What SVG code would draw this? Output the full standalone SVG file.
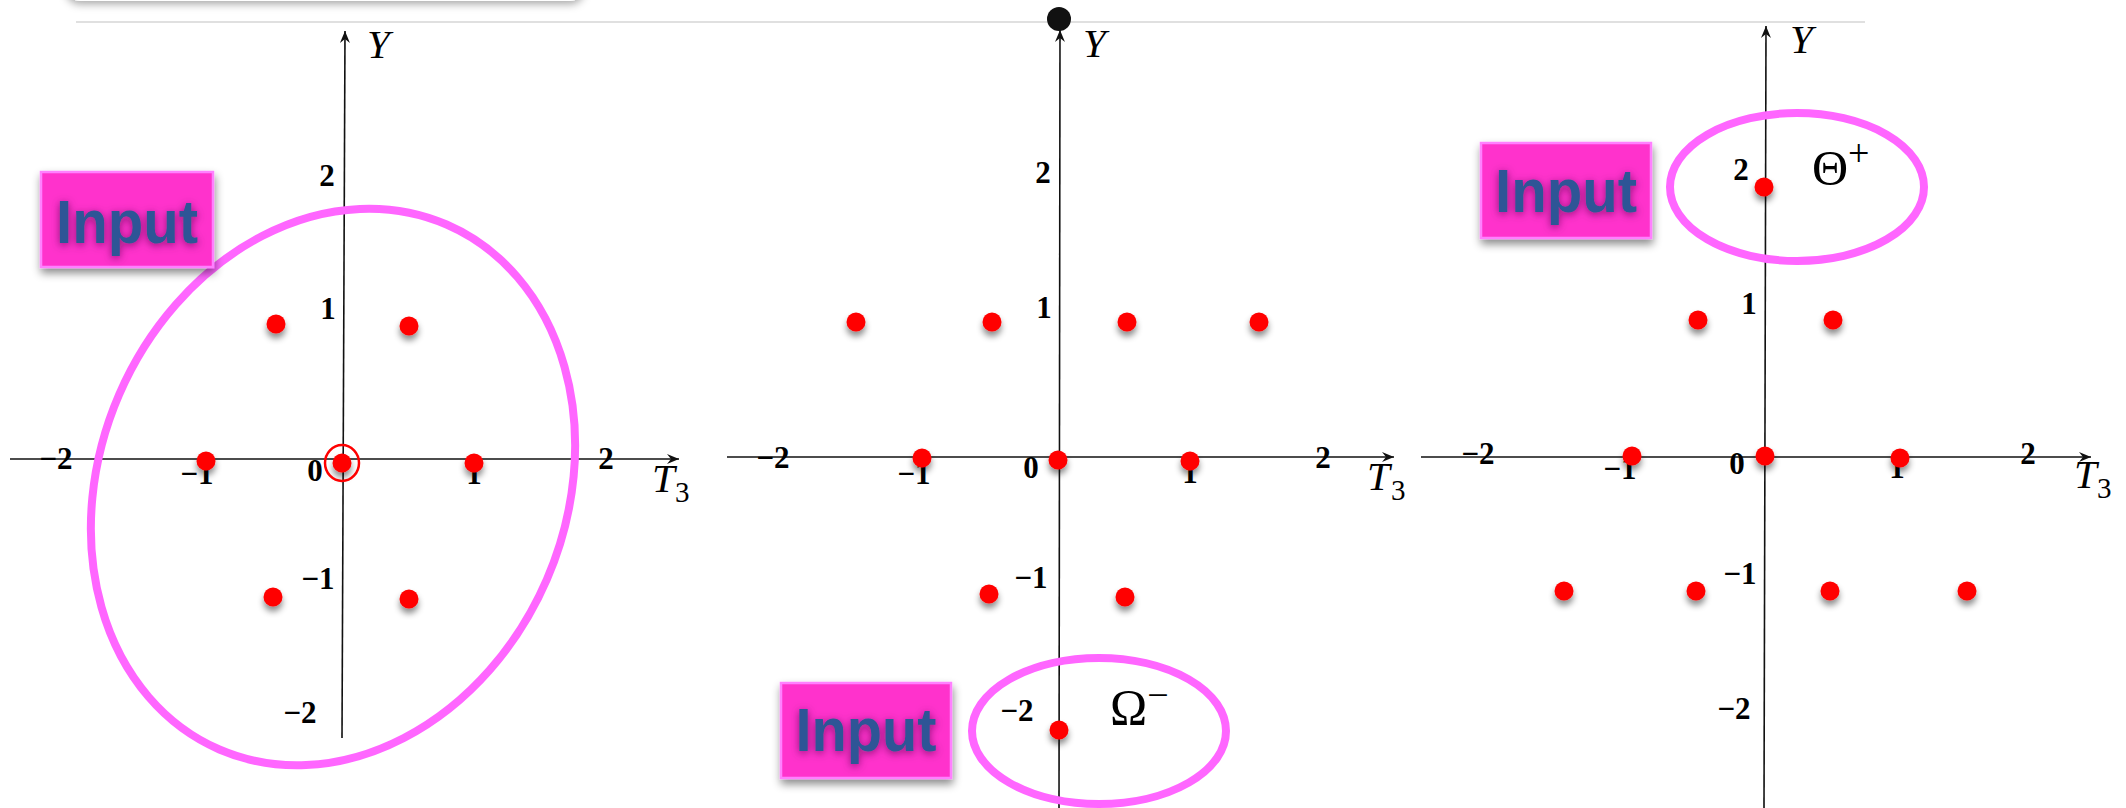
<svg xmlns="http://www.w3.org/2000/svg" width="2126" height="808" viewBox="0 0 2126 808">
<defs>
<style>
.ax{stroke:#111;stroke-width:1.6;fill:none}
.tk{font-family:"Liberation Serif",serif;font-weight:bold;font-size:31px;fill:#000;text-anchor:middle}
.it{font-family:"Liberation Serif",serif;font-style:italic;font-size:41px;fill:#000}
.sub{font-family:"Liberation Serif",serif;font-size:29px;fill:#000}
.gr{font-family:"Liberation Serif",serif;font-size:50px;fill:#000}
.dot{fill:#ff0000;filter:url(#dsh)}
.ell{fill:none;stroke:#ff66ff;stroke-width:8}
.box{fill:#ff33cc;stroke:#ff80ff;stroke-width:2.5;filter:url(#bsh)}
.inp{font-family:"Liberation Sans",Arial,sans-serif;font-weight:bold;font-size:61px;fill:#2e5596;text-anchor:middle;filter:url(#tsh)}
</style>
<filter id="dsh" x="-100%" y="-100%" width="300%" height="300%">
<feDropShadow dx="0" dy="5" stdDeviation="3" flood-color="#000" flood-opacity="0.45"/>
</filter>
<filter id="bsh" x="-20%" y="-20%" width="140%" height="150%">
<feDropShadow dx="1" dy="5" stdDeviation="4" flood-color="#000" flood-opacity="0.45"/>
</filter>
<filter id="tsh" x="-20%" y="-20%" width="140%" height="150%">
<feDropShadow dx="0" dy="2" stdDeviation="4" flood-color="#5a1050" flood-opacity="0.7"/>
</filter>
<filter id="rsh" x="-10%" y="-100%" width="120%" height="400%">
<feDropShadow dx="0" dy="3" stdDeviation="4" flood-color="#000" flood-opacity="0.35"/>
</filter>
<marker id="arr" markerUnits="userSpaceOnUse" markerWidth="16" markerHeight="12" refX="12" refY="6" orient="auto">
<path d="M0,1 L12,6 L0,11 L4,6 Z" fill="#111"/>
</marker>
</defs>
<rect width="2126" height="808" fill="#fff"/>
<g id="topbar">
<rect x="66" y="-40" width="518" height="41" rx="14" fill="#fff" filter="url(#rsh)"/>
<line x1="76" y1="22" x2="1865" y2="22" stroke="#e0e0e0" stroke-width="2"/>
</g>

<g id="connectors">
<line class="ax" x1="342" y1="738" x2="345" y2="31" marker-end="url(#arr)"/>
<line class="ax" x1="10" y1="459" x2="679" y2="459" marker-end="url(#arr)"/>
<line class="ax" x1="1059" y1="808" x2="1060" y2="30" marker-end="url(#arr)"/>
<line class="ax" x1="727" y1="457" x2="1394" y2="457" marker-end="url(#arr)"/>
<line class="ax" x1="1764" y1="808" x2="1766" y2="26" marker-end="url(#arr)"/>
<line class="ax" x1="1421" y1="457" x2="2091" y2="457" marker-end="url(#arr)"/>
</g>

<g id="panel1">
<text class="tk" x="56" y="469">−2</text>
<text class="tk" x="606" y="469">2</text>
<text class="tk" x="197" y="484">−1</text>
<text class="tk" x="315" y="481">0</text>
<text class="tk" x="474" y="484">1</text>
<text class="tk" x="327" y="186">2</text>
<text class="tk" x="328" y="319">1</text>
<text class="tk" x="318" y="589">−1</text>
<text class="tk" x="300" y="723">−2</text>
<text class="it" x="367" y="58">Y</text>
<text class="it" x="652" y="492">T</text>
<text class="sub" x="675" y="502">3</text>
<circle class="dot" cx="276" cy="324" r="9.5"/>
<circle class="dot" cx="409" cy="326" r="9.5"/>
<circle class="dot" cx="206" cy="461" r="9.5"/>
<circle class="dot" cx="342" cy="463" r="9.5"/>
<circle class="dot" cx="474" cy="463" r="9.5"/>
<circle class="dot" cx="273" cy="597" r="9.5"/>
<circle class="dot" cx="409" cy="599" r="9.5"/>
<ellipse cx="342" cy="463" rx="17" ry="18" fill="none" stroke="#ff0000" stroke-width="2.5"/>
<ellipse class="ell" cx="333" cy="487" rx="233" ry="286" transform="rotate(23.4 333 487)"/>
</g>
<g id="input1">
<rect class="box" x="41" y="172" width="172" height="95"/>
<text class="inp" x="127" y="243" textLength="142" lengthAdjust="spacingAndGlyphs">Input</text>
</g>

<g id="panel2">
<circle cx="1059" cy="19" r="12" fill="#111"/>
<text class="tk" x="773" y="468">−2</text>
<text class="tk" x="1323" y="468">2</text>
<text class="tk" x="914" y="484">−1</text>
<text class="tk" x="1031" y="478">0</text>
<text class="tk" x="1190" y="483">1</text>
<text class="tk" x="1043" y="183">2</text>
<text class="tk" x="1044" y="318">1</text>
<text class="tk" x="1031" y="588">−1</text>
<text class="tk" x="1017" y="721">−2</text>
<text class="it" x="1083" y="57">Y</text>
<text class="it" x="1367" y="490">T</text>
<text class="sub" x="1391" y="500">3</text>
<circle class="dot" cx="856" cy="322" r="9.5"/>
<circle class="dot" cx="992" cy="322" r="9.5"/>
<circle class="dot" cx="1127" cy="322" r="9.5"/>
<circle class="dot" cx="1259" cy="322" r="9.5"/>
<circle class="dot" cx="922" cy="458" r="9.5"/>
<circle class="dot" cx="1058" cy="460" r="9.5"/>
<circle class="dot" cx="1190" cy="461" r="9.5"/>
<circle class="dot" cx="989" cy="594" r="9.5"/>
<circle class="dot" cx="1125" cy="597" r="9.5"/>
<circle class="dot" cx="1059" cy="730" r="9.5"/>
<ellipse class="ell" cx="1099" cy="731" rx="127" ry="73" stroke-width="7"/>
<text class="gr" x="1110" y="724" font-size="54">Ω<tspan font-size="38" dy="-16">−</tspan></text>
</g>
<g id="input2">
<rect class="box" x="781" y="683" width="170" height="95"/>
<text class="inp" x="866" y="751" textLength="141" lengthAdjust="spacingAndGlyphs">Input</text>
</g>

<g id="panel3">
<text class="tk" x="1478" y="464">−2</text>
<text class="tk" x="2028" y="464">2</text>
<text class="tk" x="1620" y="479">−1</text>
<text class="tk" x="1737" y="474">0</text>
<text class="tk" x="1897" y="478">1</text>
<text class="tk" x="1741" y="180">2</text>
<text class="tk" x="1749" y="314">1</text>
<text class="tk" x="1740" y="584">−1</text>
<text class="tk" x="1734" y="719">−2</text>
<text class="it" x="1790" y="53">Y</text>
<text class="it" x="2074" y="488">T</text>
<text class="sub" x="2097" y="498">3</text>
<circle class="dot" cx="1764" cy="187" r="9.5"/>
<circle class="dot" cx="1698" cy="320" r="9.5"/>
<circle class="dot" cx="1833" cy="320" r="9.5"/>
<circle class="dot" cx="1632" cy="456" r="9.5"/>
<circle class="dot" cx="1765" cy="456" r="9.5"/>
<circle class="dot" cx="1900" cy="458" r="9.5"/>
<circle class="dot" cx="1564" cy="591" r="9.5"/>
<circle class="dot" cx="1696" cy="591" r="9.5"/>
<circle class="dot" cx="1830" cy="591" r="9.5"/>
<circle class="dot" cx="1967" cy="591" r="9.5"/>
<ellipse class="ell" cx="1797" cy="187" rx="127" ry="74" stroke-width="7"/>
<text class="gr" x="1812" y="185" font-size="53">Θ<tspan font-size="38" dy="-19">+</tspan></text>
</g>
<g id="input3">
<rect class="box" x="1481" y="143" width="170" height="95"/>
<text class="inp" x="1566" y="212" textLength="142" lengthAdjust="spacingAndGlyphs">Input</text>
</g>
</svg>
